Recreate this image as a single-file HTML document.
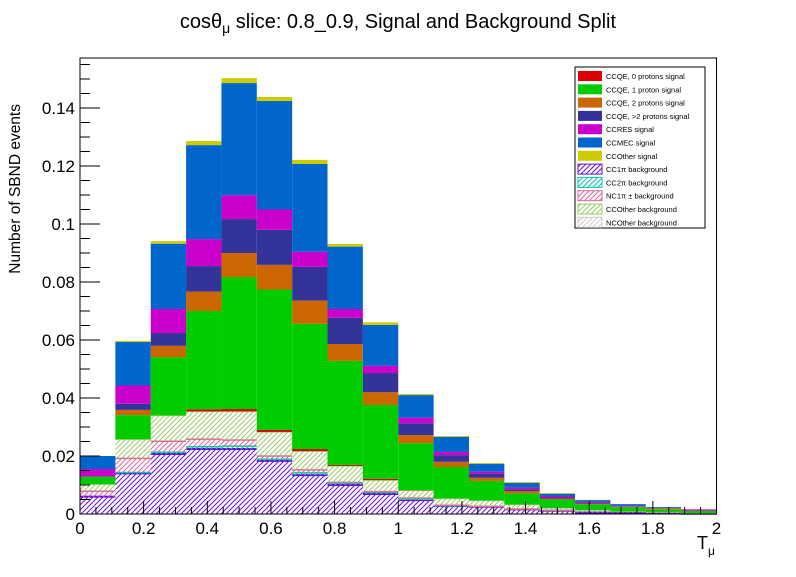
<!DOCTYPE html>
<html><head><meta charset="utf-8"><style>
html,body{margin:0;padding:0;background:#fff;}
svg text{font-family:"Liberation Sans",sans-serif;}
</style></head><body>
<svg id="chart" width="796" height="572" viewBox="0 0 796 572" xmlns="http://www.w3.org/2000/svg">
<defs>
<pattern id="hp" patternUnits="userSpaceOnUse" width="5" height="5"><path d="M-1,6 L6,-1 M-1,1 L1,-1 M4,6 L6,4" stroke="#6a0fd8" stroke-width="1"/></pattern>
<pattern id="hc" patternUnits="userSpaceOnUse" width="5" height="5"><path d="M-1,6 L6,-1 M-1,1 L1,-1 M4,6 L6,4" stroke="#00ccaa" stroke-width="1"/></pattern>
<pattern id="hn" patternUnits="userSpaceOnUse" width="5" height="5"><path d="M-1,6 L6,-1 M-1,1 L1,-1 M4,6 L6,4" stroke="#dd6699" stroke-width="1"/></pattern>
<pattern id="hg" patternUnits="userSpaceOnUse" width="5" height="5"><path d="M-1,6 L6,-1 M-1,1 L1,-1 M4,6 L6,4" stroke="#99cc66" stroke-width="1"/></pattern>
<pattern id="hw" patternUnits="userSpaceOnUse" width="5" height="5"><path d="M-1,6 L6,-1 M-1,1 L1,-1 M4,6 L6,4" stroke="#cccccc" stroke-width="1"/></pattern>
</defs>
<text x="398" y="28" font-size="20" text-anchor="middle">cosθ<tspan font-size="14" dy="5">μ</tspan><tspan dy="-5"> slice: 0.8_0.9, Signal and Background Split</tspan></text>
<g id="bars"></g>
<g id="axes"></g>
<text transform="translate(20,104) rotate(-90)" font-size="15.5" text-anchor="end">Number of SBND events</text>
<text x="697" y="549" font-size="18">T<tspan font-size="12" dy="6">μ</tspan></text>
<g id="legend"></g>
</svg>
<script>
const binLow = 0, binHigh = 2, nBins = 18;
const cc1piBkg   = [60,140,207,224,224,183,134,100,69,48,28,25,16,11,5,5,3,1];
const cc2piBkg   = [0,3,6,8,10,6,8,6,6,3,1,0,0,0,0,0,0,0];
const nc1piBkg   = [19,49,38,26,21,11,10,3,2,4,1,1,1,1,0,0,0,0];
const ccOtherBkg = [24,66,89,96,99,83,65,57,40,27,24,21,16,9,9,4,4,2];
const ncOtherBkg = [0,0,0,0,0,0,0,0,0,0,0,0,0,0,0,0,0,0];
const ccqe0p     = [0,0,0,7,8,7,7,3,4,1,0,0,0,0,0,0,0,0];
const ccqe1p     = [26,83,201,339,455,484,432,359,255,161,108,67,38,29,20,14,9,8];
const ccqe2p     = [0,18,39,67,83,85,80,58,44,28,18,11,8,3,2,2,4,0];
const ccqeN      = [0,21,44,88,117,121,116,91,66,41,23,14,6,4,2,2,0,0];
const ccres      = [26,63,83,93,82,70,52,30,25,19,11,7,6,5,4,2,1,5];
const ccmec      = [45,150,225,324,387,374,303,215,141,78,52,27,16,8,6,5,3,0];
const ccOtherSig = [0,4,9,14,17,14,14,9,9,4,3,3,3,2,1,0,0,0];
const scaleFactor = 1e-4;
const yTicks = [0,0.02,0.04,0.06,0.08,0.1,0.12,0.14];
const yTickLabels = ["0","0.02","0.04","0.06","0.08","0.1","0.12","0.14"];
const xTicks = [0,0.2,0.4,0.6,0.8,1,1.2,1.4,1.6,1.8,2];
const xTickLabels = ["0","0.2","0.4","0.6","0.8","1","1.2","1.4","1.6","1.8","2"];

const X0=80, X1=716.5, Y0=514, YT=58, yMax=(514-58)/2900;
const xs = v => X0 + (v-binLow)/(binHigh-binLow)*(X1-X0);
const ys = v => Y0 - v/yMax*(Y0-YT);
const NS="http://www.w3.org/2000/svg";
function mk(tag, attrs, parent){const e=document.createElementNS(NS,tag);for(const k in attrs)e.setAttribute(k,attrs[k]);parent.appendChild(e);return e;}

const series = [
 {n:"cc1pi-background", d:cc1piBkg, fill:"url(#hp)", line:"#6a0fd8", lw:2, label:"CC1π background", hatch:true},
 {n:"cc2pi-background", d:cc2piBkg, fill:"url(#hc)", line:"#00ccaa", lw:1.5, label:"CC2π background", hatch:true},
 {n:"nc1pi-background", d:nc1piBkg, fill:"url(#hn)", line:"#dd6699", lw:1.5, label:"NC1π ± background", hatch:true},
 {n:"ccother-background", d:ccOtherBkg, fill:"url(#hg)", line:"#99cc66", lw:1.5, label:"CCOther background", hatch:true},
 {n:"ncother-background", d:ncOtherBkg, fill:"url(#hw)", line:"#cccccc", lw:1, label:"NCOther background", hatch:true},
 {n:"ccqe-0p-signal", d:ccqe0p, fill:"#dd0000", label:"CCQE, 0 protons signal"},
 {n:"ccqe-1p-signal", d:ccqe1p, fill:"#00cc00", label:"CCQE, 1 proton signal"},
 {n:"ccqe-2p-signal", d:ccqe2p, fill:"#cc6600", label:"CCQE, 2 protons signal"},
 {n:"ccqe-n-signal", d:ccqeN, fill:"#333399", label:"CCQE, >2 protons signal"},
 {n:"ccres-signal", d:ccres, fill:"#cc00cc", label:"CCRES signal"},
 {n:"ccmec-signal", d:ccmec, fill:"#0066cc", label:"CCMEC signal"},
 {n:"ccother-signal", d:ccOtherSig, fill:"#cccc00", label:"CCOther signal"}
];
const bars=document.getElementById('bars');
const cum=new Array(nBins).fill(0);
const bw=(binHigh-binLow)/nBins;
series.forEach(s=>{
  const g=mk('g',{},bars);
  
  
  for(let i=0;i<nBins;i++){
    const lo=cum[i], hi=cum[i]+s.d[i]*scaleFactor;
    cum[i]=hi;
    if(hi<=lo)continue;
    const xa=xs(binLow+i*bw), xb=xs(binLow+(i+1)*bw);
    const r=mk('rect',{x:xa,y:ys(hi),width:xb-xa,height:ys(lo)-ys(hi),fill:s.fill},g);
    
    
    if(s.hatch){
      const l=mk('line',{x1:xa,x2:xb,y1:ys(hi),y2:ys(hi),stroke:s.line,'stroke-width':s.lw},g);
      
      
    }
  }
});
const ax=document.getElementById('axes');
mk('rect',{x:X0,y:YT,width:X1-X0,height:Y0-YT,fill:"none",stroke:"#000","stroke-width":1},ax);
for(let v=0; v<=yMax+1e-9; v+=0.005){
  const y=ys(v); const major=Math.abs(v/0.02-Math.round(v/0.02))<1e-6;
  mk('line',{x1:X0,x2:X0+(major?20:10),y1:y,y2:y,stroke:"#000"},ax);
}
yTicks.forEach((v,i)=>{
  const t=mk('text',{x:X0-5,y:ys(v)+6,'font-size':17,'text-anchor':'end'},ax);
  t.textContent=yTickLabels[i];
  
  
});
for(let k=0;k<=40;k++){
  const v=k*0.05; const x=xs(v); const major=k%4===0;
  mk('line',{x1:x,x2:x,y1:Y0,y2:Y0-(major?13:7),stroke:"#000"},ax);
}
xTicks.forEach((v,i)=>{
  const t=mk('text',{x:xs(v),y:534,'font-size':17,'text-anchor':'middle'},ax);
  t.textContent=xTickLabels[i];
  
  
});
const lg=document.getElementById('legend');
mk('rect',{x:575,y:67,width:130,height:161,fill:"#fff",stroke:"#000","stroke-width":1},lg);
const order=[5,6,7,8,9,10,11,0,1,2,3,4];
order.forEach((si,k)=>{
  const s=series[si]; const y=70+k*13.3;
  const sw=mk('rect',{x:578,y:y+1,width:24,height:10,fill:s.fill,stroke:s.hatch?s.line:"none"},lg);
  
  
  const t=mk('text',{x:606,y:y+9,'font-size':7.5},lg);
  t.textContent=s.label;
  
  
});
</script>
</body></html>
